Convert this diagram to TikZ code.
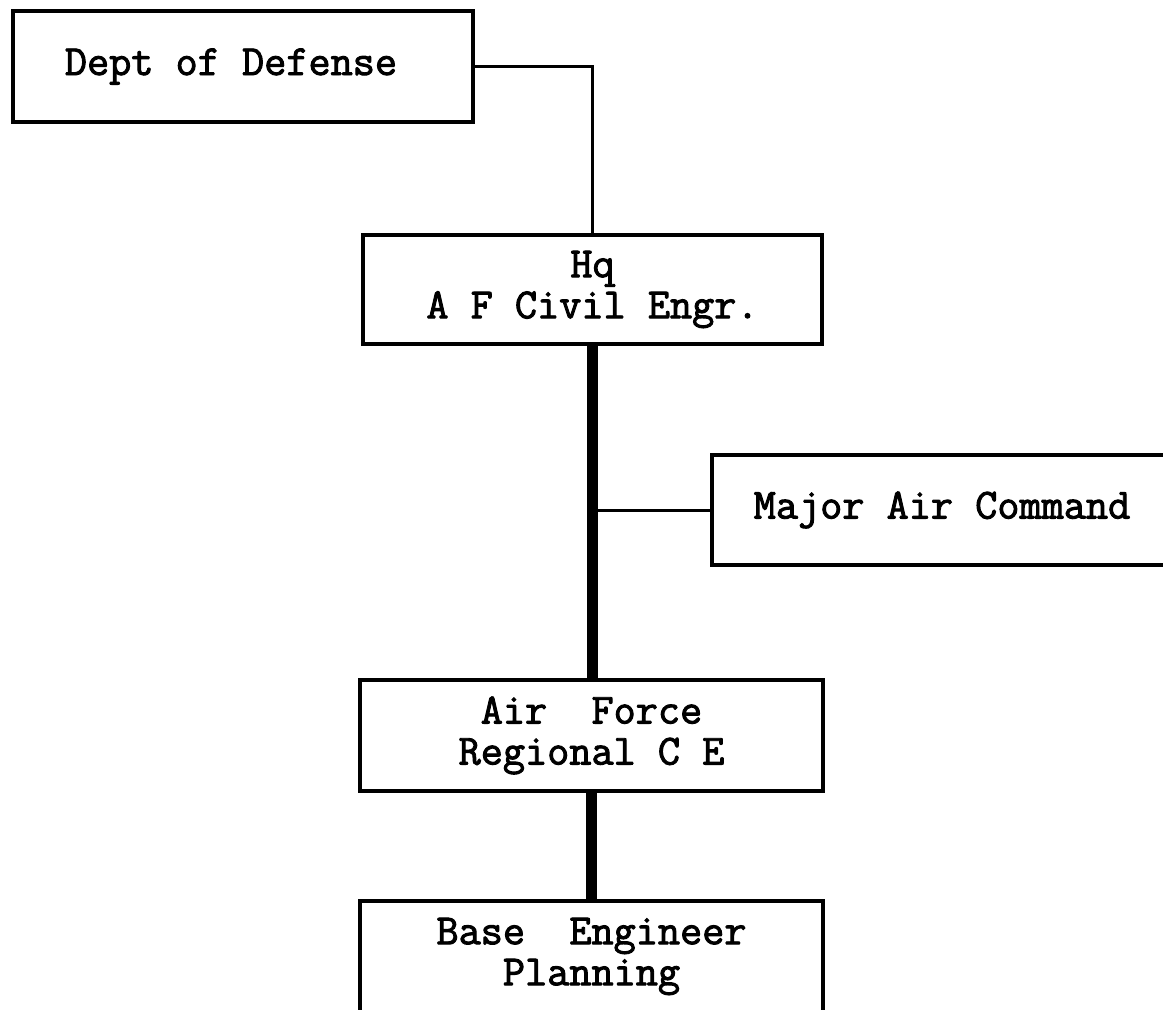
\documentclass[tikz,border=0pt]{standalone}
\usepackage{fontspec}
\newfontfamily\typewriterfont{Latin Modern Mono}[FakeBold=2.2]
\begin{document}
\begin{tikzpicture}[x=0.5pt,y=-0.5pt,
  box/.style={draw, line width=2pt, inner sep=0pt, align=center,
    font=\typewriterfont\bfseries\fontsize{21.5}{20.5}\selectfont},
  thinline/.style={line width=1.5pt},
  thickline/.style={line width=5.5pt}]
\useasboundingbox (0,0) rectangle (1163,1009);
\clip (0,0) rectangle (1163,1009);
\fill[white] (0,0) rectangle (1163,1009);
\node[box, minimum width=230pt, minimum height=55.5pt] (dod) at (243,66.5) {Dept of Defense\hspace*{12pt}};
\node[box, minimum width=229.5pt, minimum height=54.5pt] (hq) at (592.5,289.5) {Hq\\A F Civil Engr.};
\node[box, minimum width=230pt, minimum height=55pt] (mac) at (942,510) {Major Air Command};
\node[box, minimum width=231.5pt, minimum height=55.5pt] (afr) at (591.5,735.5) {Air\ \ Force\\Regional C E};
\node[box, minimum width=231.5pt, minimum height=55.5pt] (bep) at (591.5,956.5) {Base\ \ Engineer\\Planning};
\draw[thinline] (dod.east) -| (hq.north);
\draw[thickline] (hq.south) -- (hq.south |- afr.north);
\draw[thinline] (hq.south |- mac.west) -- (mac.west);
\draw[thickline] (afr.south) -- (afr.south |- bep.north);
\end{tikzpicture}
\end{document}
